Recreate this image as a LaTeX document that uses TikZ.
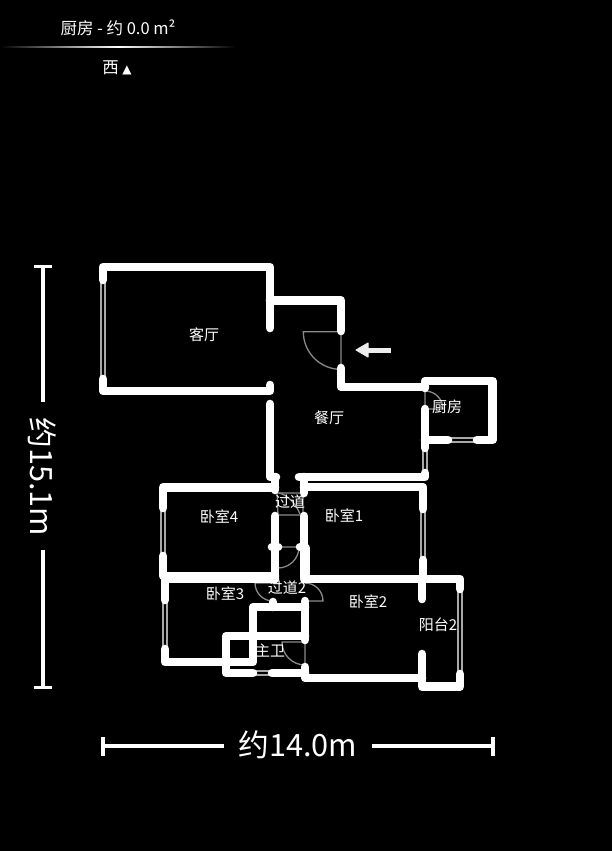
\documentclass[tikz,border=0pt]{standalone}
\usepackage{fontspec}
\setmainfont{Noto Sans CJK SC}
\newfontfamily\symfont{DejaVu Sans}
\definecolor{doorgray}{HTML}{8A8A8A}
\definecolor{wingray}{HTML}{A8A8A8}
\tikzset{
  wall/.style={draw=white,line width=8.6pt,line cap=round,line join=round},
  doorline/.style={draw=doorgray,line width=1.3pt},
  winline/.style={draw=wingray,line width=1.3pt},
  roomlabel/.style={text=white,font=\fontsize{15}{17}\selectfont,inner sep=0pt},
  dimline/.style={draw=white,line width=3.4pt},
  dimlabel/.style={text=white,font=\fontsize{30.7}{34}\selectfont,inner sep=0pt},
  headlabel/.style={text=white,font=\fontsize{16.5}{19}\selectfont,inner sep=0pt}
}
\begin{document}
\begin{tikzpicture}[x=1pt,y=-1pt]
\fill[black] (0,0) rectangle (612,851);
\useasboundingbox (0,0) rectangle (612,851);
% header
\shade[left color=black,right color=black,middle color=white] (0,46.5) rectangle (236,47.8);
\node[headlabel] (title) at (118,28) {厨房 - 约 0.0 m²};
\node[headlabel] (west) at (117,68) {西 {\symfont\fontsize{12}{14}\selectfont ▲}};
% windows
\foreach \xa/\ya/\xb/\yb in {101/280/101/379, 105/280/105/379, 423/448/423/473, 427/448/427/473,
  448/438/476/438, 448/442/476/442, 421/509/421/560, 425/509/425/560, 161/508/161/556, 165/508/165/556,
  163/600/163/649, 167/600/167/649, 458/589/458/674, 462/589/462/674, 253/671/272/671, 253/675/272/675}
  \draw[winline] (\xa,\ya) -- (\xb,\yb);
% doors
\draw[doorline] (341,335) -- (341,368) (341,331.7) -- (303.3,331.7) arc[start angle=180,end angle=95,radius=37.7];
\draw[doorline] (425,388) -- (425,409) -- (443,409) arc[start angle=0,end angle=-85,radius=18];
\draw[doorline] (278,547) -- (299,547) arc[start angle=0,end angle=90,radius=21];
\draw[doorline] (273,583) -- (255,583) arc[start angle=180,end angle=90,radius=18];
\draw[doorline] (305,583) arc[start angle=-90,end angle=0,radius=18] -- (305,601);
\draw[doorline] (305,642) -- (305,665) (305,642) -- (282,642) arc[start angle=180,end angle=90,radius=23];
\draw[doorline] (277,493) -- (303,493) -- (303,515) -- (278,515) -- cycle;
\draw[doorline] (279,493) .. controls (288,495) and (296,504) .. (300,514);
% walls
\draw[wall] (103,280) -- (103,267) -- (270,267) -- (270,328);
\draw[wall] (103,379) -- (103,391) -- (270,391) -- (270,385);
\draw[wall] (270,300.5) -- (341,300.5) -- (341,331);
\draw[wall] (341,368) -- (341,387) -- (425,387);
\draw[wall] (425,388) -- (425,381) -- (492.7,381) -- (492.7,440) -- (477,440);
\draw[wall] (425,409) -- (425,448);
\draw[wall] (425,440) -- (448,440);
\draw[wall] (270,404) -- (270,477) -- (276,477);
\draw[wall] (275,477) -- (275,490);
\draw[wall] (299,477) -- (425,477) -- (425,473);
\draw[wall] (304,477) -- (304,493);
\draw[wall] (163,508) -- (163,487.3) -- (275,487.3);
\draw[wall] (163,556) -- (163,576) -- (275,576);
\draw[wall] (304,487) -- (423,487) -- (423,509);
\draw[wall] (423,560) -- (423,579);
\draw[wall] (275,516) -- (275,579);
\draw[wall] (272,547) -- (278,547);
\draw[wall] (304,516) -- (304,579);
\draw[wall] (300,547) -- (304,547);
\draw[wall] (306,548) -- (306,579);
\draw[wall] (165,600) -- (165,579) -- (275,579);
\draw[wall] (165,649) -- (165,662) -- (253,662) -- (253,607) -- (305,607);
\draw[wall] (273,602) -- (273,607);
\draw[wall] (305,601) -- (305,640);
\draw[wall] (253,673) -- (226,673) -- (226,636) -- (305,636);
\draw[wall] (272,673) -- (305,673);
\draw[wall] (305,667) -- (305,678) -- (422,678);
\draw[wall] (305,579) -- (460,579) -- (460,589);
\draw[wall] (422,579) -- (422,599);
\draw[wall] (422,654) -- (422,686.7) -- (460,686.7) -- (460,674);
% entrance arrow
\draw[draw=white!93!black,line width=5pt] (391,350) -- (364,350);
\fill[white!93!black,draw=white!93!black,line width=1pt,line join=round] (356,350) -- (368,343) -- (368,357) -- cycle;
% room names
\node[roomlabel] (keting) at (204,335) {客厅};
\node[roomlabel] (canting) at (329,418) {餐厅};
\node[roomlabel] (chufang) at (447,407) {厨房};
\node[roomlabel] (wo4) at (219,517) {卧室4};
\node[roomlabel] (wo1) at (344,516) {卧室1};
\node[roomlabel] (wo3) at (225,594) {卧室3};
\node[roomlabel] (wo2) at (368,602) {卧室2};
\node[roomlabel] (guo1) at (290,502) {过道};
\node[roomlabel] (guo2) at (287,588) {过道2};
\node[roomlabel] (yang) at (438,625) {阳台2};
\node[roomlabel] (zhuwei) at (270,651) {主卫};
% dimensions
\coordinate (vt) at (43,266.5);
\coordinate (vb) at (43,687.5);
\coordinate (ha) at (103,746);
\coordinate (hb) at (493,746);
\node[dimlabel,rotate=-90] (vdim) at (42,477) {约15.1m};
\node[dimlabel] (hdim) at (298,745) {约14.0m};
\draw[dimline] (34,266.5) -- (52,266.5) (vt) -- (43,402) (43,550) -- (vb) (34,687.5) -- (52,687.5);
\draw[dimline] (103,737) -- (103,756) (ha) -- (224,746) (372,746) -- (hb) (493,737) -- (493,756);
\end{tikzpicture}
\end{document}
